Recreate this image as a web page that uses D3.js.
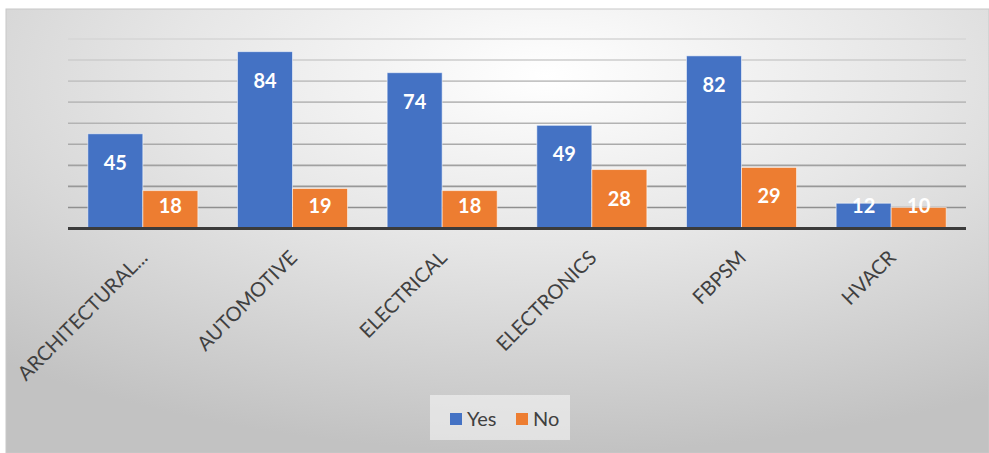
<!DOCTYPE html>
<html>
<head>
<meta charset="utf-8">
<script src="https://cdn.jsdelivr.net/npm/d3@7"></script>
<style>
  html, body { margin: 0; padding: 0; background: #ffffff; }
  svg { display: block; font-family: Lato, "Open Sans", sans-serif; }
</style>
</head>
<body>
<div id="chart"></div>
<script>
// chart data
const categories = ['ARCHITECTURAL...', 'AUTOMOTIVE', 'ELECTRICAL', 'ELECTRONICS', 'FBPSM', 'HVACR'];
const seriesNames = ['Yes', 'No'];
const yesValues = [45, 84, 74, 49, 82, 12];
const noValues = [18, 19, 18, 28, 29, 10];
const gridTicks = [10, 20, 30, 40, 50, 60, 70, 80, 90];

const colors = { Yes: '#4472C4', No: '#ED7D31' };

const width = 989, height = 453;
const plot = { left: 68, right: 966, top: 39, bottom: 228.5 };

const rows = categories.map((c, i) => ({ cat: c, Yes: yesValues[i], No: noValues[i] }));

const svg = d3.select('#chart').append('svg')
  .attr('width', width)
  .attr('height', height);

// background frame with soft radial shading
const defs = svg.append('defs');
const bg = defs.append('radialGradient')
  .attr('id', 'bg-grad')
  .attr('cx', '55%').attr('cy', '15%').attr('r', '85%');
bg.append('stop').attr('offset', '0%').attr('stop-color', '#ffffff');
bg.append('stop').attr('offset', '45%').attr('stop-color', '#e6e6e6');
bg.append('stop').attr('offset', '100%').attr('stop-color', '#c2c2c2');

svg.append('rect')
  .attr('x', 6).attr('y', 9)
  .attr('width', width - 6).attr('height', height - 9)
  .attr('fill', 'url(#bg-grad)')
  .attr('stroke', '#c8c8c8');

const x0 = d3.scaleBand().domain(categories).range([plot.left, plot.right]).padding(0);
const x1 = d3.scaleBand().domain(seriesNames).range([0, x0.bandwidth()]).paddingInner(0).paddingOuter(0.36);
const y = d3.scaleLinear().domain([0, 90]).range([plot.bottom, plot.top]);

// gridlines, lighter towards the top
const gridShade = d3.scaleLinear().domain([10, 90]).range(['#8f8f8f', '#d6d6d6']);
svg.append('g')
  .selectAll('line')
  .data(gridTicks)
  .join('line')
  .attr('x1', plot.left).attr('x2', plot.right)
  .attr('y1', d => y(d)).attr('y2', d => y(d))
  .attr('stroke', d => gridShade(d))
  .attr('stroke-width', 1.6);

// bars
const groups = svg.append('g')
  .selectAll('g')
  .data(rows)
  .join('g')
  .attr('transform', d => `translate(${x0(d.cat)},0)`);

const cells = groups.selectAll('g')
  .data(d => seriesNames.map(s => ({ key: s, value: d[s] })))
  .join('g');

cells.append('rect')
  .attr('x', d => x1(d.key))
  .attr('y', d => y(d.value))
  .attr('width', x1.bandwidth())
  .attr('height', d => y(0) - y(d.value))
  .attr('fill', d => colors[d.key])
  .attr('stroke', 'rgba(255,255,255,0.55)')
  .attr('stroke-width', 1);

cells.append('text')
  .attr('x', d => x1(d.key) + x1.bandwidth() / 2)
  .attr('y', d => Math.min(y(d.value) + 28, y(0) - 24))
  .attr('text-anchor', 'middle')
  .attr('dominant-baseline', 'central')
  .attr('fill', '#ffffff')
  .attr('font-size', '20px')
  .attr('font-weight', '700')
  .text(d => d.value);

// category axis baseline
svg.append('line')
  .attr('x1', plot.left).attr('x2', plot.right)
  .attr('y1', y(0)).attr('y2', y(0))
  .attr('stroke', '#3b3b3b')
  .attr('stroke-width', 3);

// rotated category labels
svg.append('g')
  .selectAll('text')
  .data(categories)
  .join('text')
  .attr('transform', d => `translate(${x0(d) + x0.bandwidth() / 2 + 6},259) rotate(-45)`)
  .attr('text-anchor', 'end')
  .attr('fill', '#404040')
  .attr('font-size', '20px')
  .text(d => d);

// legend
const legend = svg.append('g');
legend.append('rect')
  .attr('x', 430).attr('y', 395)
  .attr('width', 140).attr('height', 45)
  .attr('fill', 'rgba(245,245,245,0.6)');

const legendPos = [{ key: 'Yes', x: 450 }, { key: 'No', x: 516 }];
const items = legend.selectAll('g')
  .data(legendPos)
  .join('g')
  .attr('transform', d => `translate(${d.x},413)`);
items.append('rect')
  .attr('width', 12).attr('height', 12)
  .attr('fill', d => colors[d.key]);
items.append('text')
  .attr('x', 17).attr('y', 13)
  .attr('fill', '#404040')
  .attr('font-size', '20px')
  .text(d => d.key);
</script>
</body>
</html>
